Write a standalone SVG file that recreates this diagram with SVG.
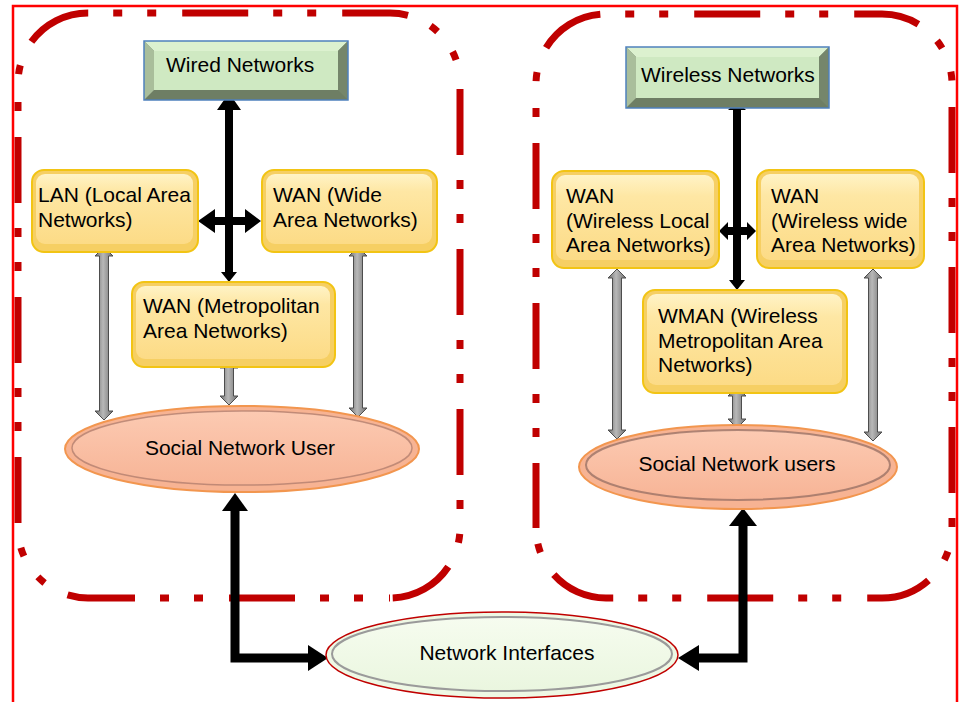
<svg xmlns="http://www.w3.org/2000/svg" width="963" height="702" viewBox="0 0 963 702">
<defs>
<linearGradient id="yface" x1="0" y1="0" x2="0" y2="1">
<stop offset="0" stop-color="#fff3c6"/><stop offset="0.25" stop-color="#fee7a4"/><stop offset="1" stop-color="#fcdb86"/>
</linearGradient>
<linearGradient id="sface" x1="0" y1="0" x2="0" y2="1">
<stop offset="0" stop-color="#fccab2"/><stop offset="1" stop-color="#f7b496"/>
</linearGradient>
<linearGradient id="gface" x1="0" y1="0" x2="0" y2="1">
<stop offset="0" stop-color="#f6fcef"/><stop offset="1" stop-color="#eaf6df"/>
</linearGradient>
<linearGradient id="garrow" x1="0" y1="0" x2="1" y2="0">
<stop offset="0" stop-color="#6f6f6f"/><stop offset="0.45" stop-color="#b8b8b8"/><stop offset="1" stop-color="#707070"/>
</linearGradient>
</defs>
<style>
text{font-family:"Liberation Sans",Arial,sans-serif;font-size:21px;fill:#000}
.zone{fill:none;stroke:#c00000;stroke-width:7;stroke-dasharray:66 25 9 25 9 26}
.yout{fill:#f6cf63;stroke:#f2c414;stroke-width:2}
.yin{fill:url(#yface)}
.gray{fill:url(#garrow);stroke:#4d4d4d;stroke-width:1}
.blk{fill:#000}
</style>
<rect x="13" y="6" width="944" height="710" fill="none" stroke="#ff0000" stroke-width="2.5"/>

<g id="zone-wired">
<path class="zone" d="M18,83 A70,70 0 0 1 88,13 H390 A70,70 0 0 1 460,83" stroke-dashoffset="116"/>
<path class="zone" d="M460,83 V528 A70,70 0 0 1 390,598" stroke-dashoffset="154"/>
<path class="zone" d="M18,83 V528 A70,70 0 0 0 88,598" stroke-dashoffset="106"/>
<path class="zone" d="M88,598 H390" stroke-dashoffset="19"/>
</g>
<g id="zone-wireless">
<path class="zone" d="M536,84 A70,70 0 0 1 606,14 H882 A70,70 0 0 1 952,84" stroke-dashoffset="122"/>
<path class="zone" d="M952,84 V528 A70,70 0 0 1 882,598" stroke-dashoffset="137"/>
<path class="zone" d="M536,84 V528" stroke-dashoffset="101"/>
<path class="zone" d="M536,528 A70,70 0 0 0 606,598 H882" stroke-dashoffset="109"/>
</g>

<g id="connectors">
<polygon class="blk" points="229,93 241,110 233,110 233,272 237,272 229,282 221,272 225,272 225,110 217,110"/>
<polygon class="blk" points="198,221 215,209 215,217 245,217 245,209 261,221 245,233 245,225 215,225 215,233"/>
<polygon class="blk" points="737,101 746,110 741,110 741,280 745,280 737,290 729,280 733,280 733,110 728,110"/>
<polygon class="blk" points="719,231 728,222 728,227 747,227 747,222 756,231 747,240 747,235 728,235 728,240"/>
<polygon class="gray" points="104,247 113,256 108.5,256 108.5,411 113,411 104,420 95,411 99.5,411 99.5,256 95,256"/>
<polygon class="gray" points="358,247 367,256 362.5,256 362.5,408 367,408 358,417 349,408 353.5,408 353.5,256 349,256"/>
<polygon class="gray" points="229,359 238,368 233.5,368 233.5,396 238,396 229,405 220,396 224.5,396 224.5,368 220,368"/>
<polygon class="gray" points="617,269 626,278 621.5,278 621.5,430 626,430 617,439 608,430 612.5,430 612.5,278 608,278"/>
<polygon class="gray" points="873,269 882,278 877.5,278 877.5,432 882,432 873,441 864,432 868.5,432 868.5,278 864,278"/>
<polygon class="gray" points="737,387 746,396 741.5,396 741.5,419 746,419 737,428 728,419 732.5,419 732.5,396 728,396"/>
<polyline points="235,510 235,658 309,658" fill="none" stroke="#000" stroke-width="9" stroke-linejoin="miter"/>
<polygon class="blk" points="235,493 248,511 222,511"/>
<polygon class="blk" points="328,658 308,645 308,671"/>
<polyline points="743,525 743,658 698,658" fill="none" stroke="#000" stroke-width="9" stroke-linejoin="miter"/>
<polygon class="blk" points="743,508 757,526 729,526"/>
<polygon class="blk" points="678,658 699,645 699,671"/>
</g>

<g id="wired">
<rect x="144" y="41" width="204" height="59" fill="#6e7e64"/>
<polygon points="144,41 348,41 338,51 154,51" fill="#dcf1cf"/>
<polygon points="144,41 154,51 154,90 144,100" fill="#a9be9b"/>
<polygon points="348,41 348,100 338,90 338,51" fill="#75866b"/>
<rect x="154" y="51" width="184" height="39" fill="#cfe9c2"/>
<rect x="144" y="41" width="204" height="59" fill="none" stroke="#4f81bd" stroke-width="1.5"/>
<text x="166" y="72">Wired Networks</text>
</g>

<g id="wireless">
<rect x="626" y="47" width="203" height="61" fill="#6e7e64"/>
<polygon points="626,47 829,47 819,57 636,57" fill="#dcf1cf"/>
<polygon points="626,47 636,57 636,98 626,108" fill="#a9be9b"/>
<polygon points="829,47 829,108 819,98 819,57" fill="#75866b"/>
<rect x="636" y="57" width="183" height="41" fill="#cfe9c2"/>
<rect x="626" y="47" width="203" height="61" fill="none" stroke="#4f81bd" stroke-width="1.5"/>
<text x="641" y="82">Wireless Networks</text>
</g>

<g id="lan">
<rect class="yout" x="32" y="170" width="166" height="82" rx="12"/>
<rect class="yin" x="36" y="174" width="157" height="70" rx="9"/>
<text x="38" y="202">LAN (Local Area<tspan x="38" y="227">Networks)</tspan></text>
</g>

<g id="wan">
<rect class="yout" x="262" y="170" width="175" height="82" rx="12"/>
<rect class="yin" x="266" y="174" width="166" height="70" rx="9"/>
<text x="273" y="202">WAN (Wide<tspan x="273" y="227">Area Networks)</tspan></text>
</g>

<g id="metro">
<rect class="yout" x="132" y="282" width="203" height="85" rx="12"/>
<rect class="yin" x="136" y="286" width="194" height="73" rx="9"/>
<text x="143" y="313">WAN (Metropolitan<tspan x="143" y="338">Area Networks)</tspan></text>
</g>

<g id="wlan">
<rect class="yout" x="552" y="171" width="167" height="97" rx="12"/>
<rect class="yin" x="556" y="175" width="158" height="85" rx="9"/>
<text x="566" y="203">WAN<tspan x="566" y="228">(Wireless Local</tspan><tspan x="566" y="252">Area Networks)</tspan></text>
</g>

<g id="wwan">
<rect class="yout" x="757" y="170" width="167" height="98" rx="12"/>
<rect class="yin" x="761" y="174" width="158" height="86" rx="9"/>
<text x="771" y="203">WAN<tspan x="771" y="228">(Wireless wide</tspan><tspan x="771" y="252">Area Networks)</tspan></text>
</g>

<g id="wman">
<rect class="yout" x="643" y="290" width="204" height="103" rx="12"/>
<rect class="yin" x="647" y="294" width="195" height="91" rx="9"/>
<text x="658" y="323">WMAN (Wireless<tspan x="658" y="348">Metropolitan Area</tspan><tspan x="658" y="372">Networks)</tspan></text>
</g>

<g id="user-left">
<ellipse cx="242" cy="449" rx="177" ry="43" fill="#f7b393" stroke="#f2964f" stroke-width="2"/>
<ellipse cx="242" cy="448" rx="170" ry="37" fill="url(#sface)" stroke="#a9786a" stroke-width="1.5" stroke-opacity="0.7"/>
<text x="240" y="455" text-anchor="middle">Social Network User</text>
</g>

<g id="user-right">
<ellipse cx="738" cy="467" rx="159" ry="42" fill="#f7b393" stroke="#f2964f" stroke-width="2"/>
<ellipse cx="738" cy="465" rx="152" ry="35" fill="url(#sface)" stroke="#8e6a5f" stroke-width="2" stroke-opacity="0.7"/>
<text x="737" y="471" text-anchor="middle">Social Network users</text>
</g>

<g id="interfaces">
<ellipse cx="502" cy="655" rx="176" ry="43" fill="#eef8e4" stroke="#c00000" stroke-width="1.5"/>
<ellipse cx="502" cy="654" rx="170" ry="37" fill="url(#gface)" stroke="#9a9a9a" stroke-width="2"/>
<text x="507" y="660" text-anchor="middle">Network Interfaces</text>
</g>
</svg>
